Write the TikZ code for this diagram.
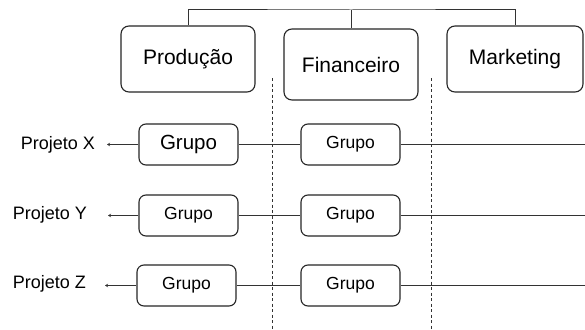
\documentclass[tikz,border=0pt]{standalone}
\usepackage{fontspec}
\setmainfont{Liberation Sans}
\usetikzlibrary{arrows.meta}
\definecolor{ink}{HTML}{333333}
\tikzset{
  dept/.style={draw=black!85, line width=1.1pt, rounded corners=8pt, inner sep=0pt,
    minimum width=134pt, minimum height=66pt, font=\fontsize{21}{25}\selectfont},
  team/.style={draw=black!85, line width=1.1pt, rounded corners=7pt, inner sep=0pt,
    minimum width=99pt, minimum height=41pt, font=\fontsize{17.5}{21}\selectfont},
  proj/.style={anchor=east, inner sep=0pt, font=\fontsize{18}{22}\selectfont},
  wire/.style={draw=ink, line width=1pt},
  divider/.style={draw=black!80, line width=0.9pt, dash pattern=on 3pt off 2.5pt},
  tip/.style={-{Stealth[length=3pt,width=3.5pt]}}
}
\begin{document}
\begin{tikzpicture}[x=1pt,y=-1pt]
\useasboundingbox (0,0) rectangle (585,329);
\fill[white] (0,0) rectangle (585,329);

% department boxes
\node[dept] (prod) at (188,59) {Produção};
\node[dept, minimum height=71pt] (fin) at (351,64.5) {Financeiro};
\node[dept, minimum width=136pt] (mkt) at (515,59) {Marketing};

% hierarchy bar on top
\coordinate (top) at (351,10);
\draw[wire] (prod.north) |- (top) -| (mkt.north);
\draw[wire] (top) -- (fin.north);

% column dividers
\coordinate (d1a) at (272,78);
\coordinate (d1b) at (272,329);
\coordinate (d2a) at (431,78);
\coordinate (d2b) at (431,329);
\draw[divider] (d1a) -- (d1b);
\draw[divider] (d2a) -- (d2b);

% team boxes
\node[team, font=\fontsize{20.5}{24}\selectfont] (g1x) at (188.5,144.5) {Grupo};
\node[team] (g1y) at (188.5,215.5) {Grupo};
\node[team] (g1z) at (186.5,285.5) {Grupo};
\node[team] (g2x) at (350.5,144.5) {Grupo};
\node[team] (g2y) at (350.5,215.5) {Grupo};
\node[team] (g2z) at (350.5,285.5) {Grupo};

% project labels
\node[proj] (px) at (95,145) {Projeto X};
\node[proj] (py) at (87,215) {Projeto Y};
\node[proj] (pz) at (86,284) {Projeto Z};

% row ends
\coordinate (ax) at (107,144.5);
\coordinate (ay) at (108,215.5);
\coordinate (az) at (105,285.5);
\coordinate (ex) at (585,144.5);
\coordinate (ey) at (585,215.5);
\coordinate (ez) at (585,285.5);

% row connectors
\draw[wire, tip] (g1x.west) -- (ax);
\draw[wire, tip] (g1y.west) -- (ay);
\draw[wire, tip] (g1z.west) -- (az);
\draw[wire] (g1x.east) -- (g2x.west);
\draw[wire] (g1y.east) -- (g2y.west);
\draw[wire] (g1z.east) -- (g2z.west);
\draw[wire] (g2x.east) -- (ex);
\draw[wire] (g2y.east) -- (ey);
\draw[wire] (g2z.east) -- (ez);
\end{tikzpicture}
\end{document}
